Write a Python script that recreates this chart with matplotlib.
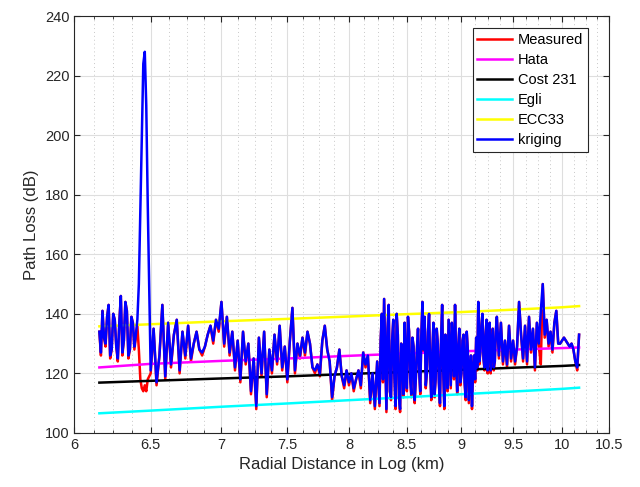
import matplotlib
matplotlib.use("Agg")
import matplotlib.pyplot as plt
from matplotlib.ticker import FixedLocator, FixedFormatter, NullFormatter

plt.rcParams['font.family'] = ['Liberation Sans', 'DejaVu Sans']

# radial distance (log) of each sample
dist = [6.16, 6.17, 6.18, 6.19, 6.20, 6.21, 6.22, 6.23, 6.24, 6.25,
        6.26, 6.27, 6.28, 6.29, 6.30, 6.31, 6.32, 6.33, 6.34, 6.35,
        6.36, 6.37, 6.38, 6.39, 6.40, 6.41, 6.42, 6.43, 6.44, 6.45,
        6.46, 6.47, 6.48, 6.50, 6.52, 6.54, 6.56, 6.58, 6.60, 6.62,
        6.64, 6.66, 6.68, 6.70, 6.72, 6.74, 6.76, 6.78, 6.80, 6.82,
        6.84, 6.86, 6.88, 6.90, 6.92, 6.94, 6.96, 6.98, 7.00, 7.02,
        7.04, 7.06, 7.08, 7.10, 7.12, 7.14, 7.16, 7.18, 7.20, 7.22,
        7.24, 7.26, 7.28, 7.30, 7.32, 7.34, 7.36, 7.38, 7.40, 7.42,
        7.44, 7.46, 7.48, 7.50, 7.52, 7.54, 7.56, 7.58, 7.60, 7.62,
        7.64, 7.66, 7.68, 7.70, 7.72, 7.74, 7.76, 7.78, 7.80, 7.82,
        7.84, 7.86, 7.88, 7.90, 7.92, 7.94, 7.96, 7.98, 8.00, 8.02,
        8.04, 8.06, 8.08, 8.10, 8.12, 8.14, 8.16, 8.18, 8.20, 8.22,
        8.24, 8.26, 8.27, 8.28, 8.29, 8.30, 8.31, 8.32, 8.33, 8.34,
        8.35, 8.36, 8.37, 8.38, 8.39, 8.40, 8.41, 8.42, 8.43, 8.44,
        8.45, 8.46, 8.47, 8.48, 8.49, 8.50, 8.51, 8.52, 8.53, 8.54,
        8.55, 8.56, 8.57, 8.58, 8.59, 8.60, 8.61, 8.62, 8.63, 8.64,
        8.65, 8.66, 8.67, 8.68, 8.69, 8.70, 8.71, 8.72, 8.73, 8.74,
        8.75, 8.76, 8.77, 8.78, 8.79, 8.80, 8.81, 8.82, 8.83, 8.84,
        8.85, 8.86, 8.87, 8.88, 8.89, 8.90, 8.91, 8.92, 8.93, 8.94,
        8.95, 8.96, 8.97, 8.98, 8.99, 9.00, 9.01, 9.02, 9.03, 9.04,
        9.05, 9.06, 9.07, 9.08, 9.09, 9.10, 9.11, 9.12, 9.13, 9.14,
        9.15, 9.16, 9.17, 9.18, 9.19, 9.20, 9.21, 9.22, 9.23, 9.24,
        9.25, 9.26, 9.27, 9.28, 9.29, 9.30, 9.31, 9.32, 9.33, 9.34,
        9.36, 9.38, 9.40, 9.42, 9.44, 9.46, 9.48, 9.50, 9.52, 9.54,
        9.56, 9.58, 9.60, 9.62, 9.64, 9.66, 9.68, 9.70, 9.72, 9.74,
        9.76, 9.78, 9.80, 9.82, 9.84, 9.86, 9.88, 9.90, 9.92, 9.94,
        9.96, 9.98, 10.00, 10.02, 10.04, 10.06, 10.08, 10.10, 10.12, 10.14,
        10.16, 10.18]

measured = [134, 126, 141, 132, 129, 139, 143, 125, 128, 140,
            138, 129, 124, 137, 146, 126, 131, 144, 141, 125,
            128, 139, 137, 128, 132, 136, 128, 118, 115, 114,
            116, 114, 118, 120, 135, 116, 126, 143, 118, 137,
            122, 133, 138, 120, 134, 125, 136, 124, 130, 134,
            128, 126, 129, 133, 136, 130, 138, 134, 144, 129,
            139, 126, 134, 121, 131, 117, 134, 123, 130, 113,
            125, 108, 132, 119, 134, 112, 128, 120, 133, 123,
            136, 121, 129, 117, 131, 142, 120, 130, 125, 132,
            126, 134, 130, 122, 120, 123, 119, 131, 136, 128,
            124, 111, 119, 122, 128, 119, 115, 121, 116, 120,
            114, 118, 121, 115, 127, 122, 126, 110, 120, 108,
            124, 109, 131, 140, 117, 145, 126, 107, 135, 143,
            114, 111, 131, 138, 119, 108, 140, 133, 112, 107,
            130, 127, 112, 137, 124, 114, 139, 134, 118, 112,
            132, 129, 110, 118, 128, 135, 121, 113, 133, 144,
            127, 139, 115, 120, 134, 140, 122, 111, 127, 137,
            112, 118, 135, 130, 117, 109, 131, 143, 121, 108,
            133, 126, 114, 138, 127, 115, 137, 131, 118, 143,
            125, 113, 129, 135, 116, 120, 131, 133, 117, 111,
            134, 128, 110, 118, 126, 108, 121, 126, 117, 132,
            121, 144, 123, 127, 136, 140, 125, 121, 133, 138,
            120, 128, 137, 120, 128, 135, 121, 124, 134, 139,
            125, 137, 123, 131, 122, 136, 124, 131, 123, 129,
            144, 133, 124, 136, 123, 139, 127, 135, 121, 137,
            129, 123, 150, 132, 138, 129, 134, 127, 137, 141,
            130, 130, 131, 132, 131, 130, 129, 130, 128, 124,
            121, 133]

kriging = [134, 127, 141, 132, 130, 139, 143, 126, 128, 140,
           138, 129, 125, 137, 146, 127, 131, 144, 141, 126,
           128, 139, 137, 129, 133, 138, 150, 175, 200, 224,
           228, 210, 177, 121, 135, 117, 126, 143, 119, 137,
           123, 133, 138, 121, 134, 126, 136, 125, 130, 134,
           128, 127, 129, 133, 136, 131, 138, 135, 144, 130,
           139, 127, 134, 122, 131, 118, 134, 124, 130, 114,
           125, 109, 132, 120, 134, 113, 128, 121, 133, 124,
           136, 122, 129, 118, 131, 142, 121, 130, 126, 132,
           127, 134, 130, 122, 121, 123, 120, 131, 136, 128,
           124, 112, 119, 122, 128, 119, 116, 121, 117, 120,
           115, 118, 121, 116, 127, 123, 126, 111, 120, 109,
           124, 110, 131, 140, 118, 145, 126, 108, 135, 143,
           114, 112, 131, 138, 119, 109, 140, 133, 112, 108,
           130, 127, 113, 137, 124, 115, 139, 134, 118, 113,
           132, 129, 111, 118, 128, 135, 121, 114, 133, 144,
           128, 139, 116, 120, 134, 140, 122, 112, 127, 137,
           113, 118, 135, 130, 117, 110, 131, 143, 121, 109,
           133, 126, 115, 138, 127, 116, 137, 131, 119, 143,
           125, 114, 129, 135, 117, 120, 131, 133, 117, 112,
           134, 128, 111, 118, 126, 109, 121, 126, 118, 132,
           122, 144, 124, 127, 136, 140, 125, 122, 133, 138,
           121, 128, 137, 121, 128, 135, 122, 124, 134, 139,
           126, 137, 124, 131, 123, 136, 125, 131, 124, 129,
           144, 133, 125, 136, 124, 139, 128, 135, 122, 137,
           130, 141, 150, 133, 138, 130, 134, 128, 137, 141,
           130, 130, 131, 132, 131, 130, 129, 130, 128, 124,
           122, 133]

# propagation models, sampled along the route
model_dist = [6.16, 6.5, 7.0, 7.5, 8.0, 8.5, 9.0, 9.5, 10.0, 10.18]
hata = [122.0, 123.2, 124.2, 125.0, 125.9, 126.7, 127.4, 128.0, 128.5, 128.7]
cost231 = [116.9, 117.5, 118.3, 119.0, 119.8, 120.5, 121.2, 121.9, 122.5, 122.8]
egli = [106.6, 107.5, 108.8, 109.9, 111.0, 112.0, 113.0, 113.9, 114.8, 115.2]
ecc33 = [135.8, 136.5, 137.5, 138.3, 139.1, 139.9, 140.6, 141.4, 142.2, 142.6]

fig = plt.figure(figsize=(6.4, 4.87), dpi=100)
ax = fig.add_axes([0.116, 0.111, 0.835, 0.856])

lw = 1.8
ax.plot(dist, measured, color='#ff0000', lw=lw, label='Measured')
ax.plot(model_dist, hata, color='#ff00ff', lw=lw, label='Hata')
ax.plot(model_dist, cost231, color='#000000', lw=lw, label='Cost 231')
ax.plot(model_dist, egli, color='#00ffff', lw=lw, label='Egli')
ax.plot(model_dist, ecc33, color='#ffff00', lw=lw, label='ECC33')
ax.plot(dist, kriging, color='#0000ff', lw=lw, label='kriging')

ax.set_xscale('log')
ax.set_xlim(6, 10.5)
ax.set_ylim(100, 240)

xt = [6, 6.5, 7, 7.5, 8, 8.5, 9, 9.5, 10, 10.5]
ax.xaxis.set_major_locator(FixedLocator(xt))
ax.xaxis.set_major_formatter(FixedFormatter(['6', '6.5', '7', '7.5', '8', '8.5', '9', '9.5', '10', '10.5']))
minor = [6 + 0.125 * i for i in range(37) if i % 4 != 0]
ax.xaxis.set_minor_locator(FixedLocator(minor))
ax.xaxis.set_minor_formatter(NullFormatter())
ax.set_yticks([100, 120, 140, 160, 180, 200, 220, 240])

ax.grid(True, which='major', color='#dedede', lw=0.8, ls='-')
ax.grid(True, which='minor', axis='x', color='#c8c8c8', lw=0.7, ls=(0, (1, 3)))
ax.set_axisbelow(True)

ax.tick_params(which='both', direction='in', top=True, right=True,
               colors='#262626', labelsize=10.5)
ax.tick_params(which='major', length=4)
ax.tick_params(which='minor', length=2)
for s in ax.spines.values():
    s.set_color('#262626')
    s.set_linewidth(0.8)

ax.set_xlabel('Radial Distance in Log (km)', fontsize=12, color='#262626')
ax.set_ylabel('Path Loss (dB)', fontsize=12, color='#262626')

leg = ax.legend(loc='upper right', bbox_to_anchor=(0.969, 0.981), fontsize=10.5,
                fancybox=False, framealpha=1, edgecolor='#262626',
                handlelength=2.4, labelspacing=0.42, borderpad=0.3,
                handletextpad=0.4, borderaxespad=0.3)
leg.get_frame().set_linewidth(0.8)

fig.savefig('out.png', dpi=100)
